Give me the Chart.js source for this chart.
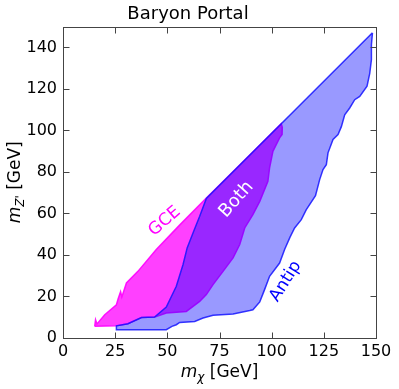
<!DOCTYPE html>
<html>
<head>
<meta charset="utf-8">
<script src="https://cdn.jsdelivr.net/npm/chart.js@4.4.0/dist/chart.umd.min.js"></script>
<style>
  html, body { margin: 0; padding: 0; background: #fff; }
  canvas { display: block; }
</style>
</head>
<body>
<canvas id="chart" width="399" height="389"></canvas>
<script>
// region outlines (m_chi, m_Z' in GeV), traced as closed polygons
const gceMchi = [15.2, 15.6, 16.3, 20.0, 25.6, 26.4, 27.6, 28.2, 30.4, 35.9, 44.7, 56.0, 68.7, 86.0, 104.6,
                 105.1, 105.0, 103.8, 100.6, 99.0, 98.2, 94.3, 91.0, 87.1, 84.7, 81.5, 76.7, 71.9, 68.7, 65.5, 59.1, 49.5,
                 45.0, 43.9, 37.6, 31.1, 25.6, 15.2];
const gceMz   = [5.6, 8.8, 6.8, 11.2, 16.0, 18.8, 22.3, 19.8, 26.5, 32.1, 42.6, 54.5, 67.4, 84.7, 103.2,
                 101.5, 98.0, 96.4, 89.9, 81.9, 75.5, 65.8, 59.4, 53.0, 45.0, 38.6, 32.1, 25.7, 20.9, 17.6, 12.8, 12.0,
                 10.5, 10.1, 9.9, 6.9, 5.9, 5.6];

const antipMchi = [148.3, 147.8, 147.8, 147.0, 145.7, 142.2, 139.8, 137.4, 135.0, 133.4, 131.8, 129.4, 127.0, 126.2,
                   124.6, 123.0, 121.0, 116.6, 114.2, 111.0, 108.8, 106.2, 103.8, 99.0, 96.6, 94.3, 91.0, 89.5, 81.5,
                   71.9, 67.1, 63.1, 55.9, 54.3, 52.2, 49.5, 25.6, 25.6, 31.1, 37.6, 43.9, 49.5, 54.3, 57.5, 59.5,
                   62.3, 65.5, 68.7, 104.6, 148.3];
const antipMz   = [147.0, 141.3, 134.1, 127.5, 121.3, 116.4, 114.8, 110.8, 107.5, 101.8, 98.0, 95.6, 89.2, 83.5,
                   81.1, 76.3, 68.6, 61.8, 57.0, 53.0, 48.6, 42.6, 36.1, 29.7, 23.3, 17.4, 13.6, 13.2, 11.6,
                   11.0, 9.6, 8.0, 7.5, 6.4, 5.6, 4.0, 4.0, 5.9, 6.9, 9.9, 10.1, 14.9, 24.9, 35.3, 43.4,
                   50.6, 58.6, 67.2, 103.2, 147.0];

const xTicks = [0, 25, 50, 75, 100, 125, 150];
const yTicks = [0, 20, 40, 60, 80, 100, 120, 140];
const regionNames = ['GCE', 'Both', 'Antip'];

const FONT = 'DejaVu Sans';

function toPoints(xs, ys) {
    return xs.map((x, i) => ({x: x, y: ys[i]}));
}

// matplotlib-style frame with inward ticks on all four sides
const frameTicks = {
    id: 'frameTicks',
    afterDraw(chart, args, opts) {
        const ctx = chart.ctx;
        const a = chart.chartArea;
        const xs = chart.scales.x, ys = chart.scales.y;
        const L = Math.round(a.left) + 0.5, R = Math.round(a.right) + 0.5;
        const T = Math.round(a.top) + 0.5, B = Math.round(a.bottom) + 0.5;
        ctx.save();
        ctx.strokeStyle = opts.color;
        ctx.lineWidth = 1;
        ctx.beginPath();
        xTicks.forEach(v => {
            const px = Math.round(xs.getPixelForValue(v)) + 0.5;
            ctx.moveTo(px, B); ctx.lineTo(px, B - opts.length);
            ctx.moveTo(px, T); ctx.lineTo(px, T + opts.length);
        });
        yTicks.forEach(v => {
            const py = Math.round(ys.getPixelForValue(v)) + 0.5;
            ctx.moveTo(L, py); ctx.lineTo(L + opts.length, py);
            ctx.moveTo(R, py); ctx.lineTo(R - opts.length, py);
        });
        ctx.stroke();
        ctx.strokeRect(L, T, R - L, B - T);
        ctx.restore();
    }
};

// draw a label with an italic symbol and a subscript, centred on (0,0)
function mathLabel(ctx, parts) {
    let total = 0;
    parts.forEach(p => { ctx.font = p.font; p.w = ctx.measureText(p.text).width; total += p.w; });
    let x = -total / 2;
    ctx.textAlign = 'left';
    ctx.textBaseline = 'alphabetic';
    parts.forEach(p => {
        ctx.font = p.font;
        ctx.fillText(p.text, x, p.dy || 0);
        x += p.w;
    });
}

const axisTitles = {
    id: 'axisTitles',
    afterDraw(chart) {
        const ctx = chart.ctx;
        const a = chart.chartArea;
        ctx.save();
        ctx.fillStyle = '#000';
        ctx.translate((a.left + a.right) / 2, 377);
        mathLabel(ctx, [
            {text: 'm', font: 'italic 17px ' + FONT},
            {text: 'χ', font: 'italic 12px ' + FONT, dy: 4},
            {text: ' [GeV]', font: '17px ' + FONT}
        ]);
        ctx.restore();
        ctx.save();
        ctx.fillStyle = '#000';
        ctx.translate(20, (a.top + a.bottom) / 2);
        ctx.rotate(-Math.PI / 2);
        mathLabel(ctx, [
            {text: 'm', font: 'italic 17px ' + FONT},
            {text: "Z'", font: 'italic 12px ' + FONT, dy: 4},
            {text: ' [GeV]', font: '17px ' + FONT}
        ]);
        ctx.restore();
    }
};

// rotated text labels placed inside the regions (data coordinates)
const regionLabels = {
    id: 'regionLabels',
    afterDatasetsDraw(chart, args, opts) {
        const ctx = chart.ctx;
        const xs = chart.scales.x, ys = chart.scales.y;
        opts.items.forEach(item => {
            ctx.save();
            ctx.translate(xs.getPixelForValue(item.x), ys.getPixelForValue(item.y));
            ctx.rotate(item.angle * Math.PI / 180);
            ctx.font = item.size + 'px ' + FONT;
            ctx.fillStyle = item.color;
            ctx.textAlign = 'center';
            ctx.textBaseline = 'middle';
            ctx.fillText(item.text, 0, 0);
            ctx.restore();
        });
    }
};

new Chart(document.getElementById('chart'), {
    type: 'scatter',
    data: {
        datasets: [
            {
                label: 'Antip',
                data: toPoints(antipMchi, antipMz),
                showLine: true,
                fill: 'shape',
                backgroundColor: 'rgba(0, 0, 255, 0.4)',
                borderColor: 'rgba(20, 20, 255, 0.85)',
                borderWidth: 1.5,
                pointRadius: 0,
                tension: 0,
                order: 0
            },
            {
                label: 'GCE',
                data: toPoints(gceMchi, gceMz),
                showLine: true,
                fill: 'shape',
                backgroundColor: 'rgba(255, 0, 255, 0.75)',
                borderColor: 'rgba(255, 0, 255, 0.9)',
                borderWidth: 1.5,
                pointRadius: 0,
                tension: 0,
                order: 1
            }
        ]
    },
    options: {
        responsive: false,
        animation: false,
        layout: {padding: {top: 0, right: 23, left: 0, bottom: 0}},
        scales: {
            x: {
                type: 'linear',
                min: 0, max: 150,
                grid: {display: false, drawTicks: false},
                border: {display: false},
                ticks: {stepSize: 25, padding: 4, color: '#000', font: {family: FONT, size: 16}, maxRotation: 0},
                afterFit(scale) { scale.height = 51; }
            },
            y: {
                type: 'linear',
                min: 0, max: 150,
                grid: {display: false, drawTicks: false},
                border: {display: false},
                ticks: {stepSize: 20, includeBounds: false, padding: 6, color: '#000', font: {family: FONT, size: 16}},
                afterFit(scale) { scale.width = 63; }
            }
        },
        plugins: {
            legend: {display: false},
            tooltip: {enabled: false},
            title: {
                display: true,
                text: 'Baryon Portal',
                color: '#000',
                font: {family: FONT, size: 18, weight: 'normal', lineHeight: 1.2},
                padding: {top: 4, bottom: 1}
            },
            frameTicks: {color: '#444', length: 6},
            regionLabels: {
                items: [
                    {text: regionNames[0], x: 48.7, y: 56.2, angle: -41, color: '#ff00ff', size: 17},
                    {text: regionNames[1], x: 83.1, y: 66.7, angle: -48, color: '#ffffff', size: 18},
                    {text: regionNames[2], x: 106.7, y: 27.3, angle: -58, color: '#0000ff', size: 17}
                ]
            }
        }
    },
    plugins: [frameTicks, axisTitles, regionLabels]
});
</script>
</body>
</html>
